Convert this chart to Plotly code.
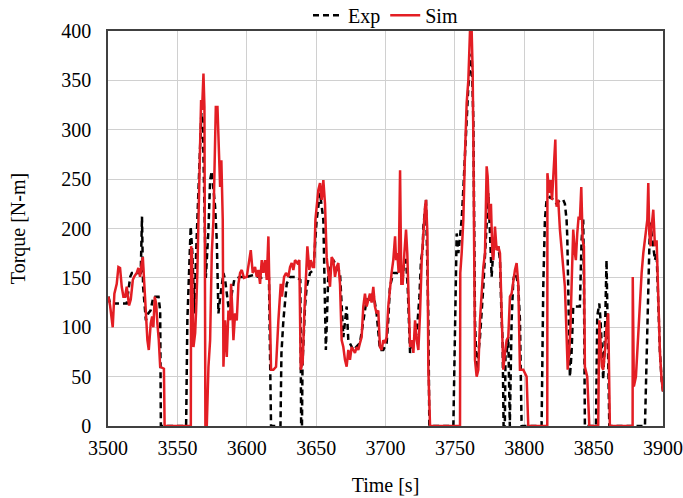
import plotly.graph_objects as go

# Exp (measured) torque trace
exp_t = [3500.3, 3501.5, 3513.5, 3514.8, 3516.0, 3517.2, 3523.6, 3524.5, 3525.3, 3527.3,
         3529.0, 3530.7, 3532.7, 3536.4, 3537.6, 3538.1, 3556.3, 3557.2, 3558.7, 3559.6,
         3560.8, 3562.3, 3563.5, 3564.7, 3565.9, 3567.3, 3568.3, 3569.5, 3570.5, 3572.4,
         3573.6, 3574.8, 3576.0, 3577.2, 3578.4, 3579.6, 3580.8, 3583.2, 3584.4, 3585.6,
         3586.8, 3588.0, 3589.2, 3591.0, 3595.2, 3600.0, 3605.0, 3610.0, 3614.4, 3616.0,
         3616.5, 3617.2, 3617.5, 3624.3, 3625.0, 3626.4, 3628.8, 3631.2, 3636.0, 3638.6,
         3639.0, 3639.2, 3639.8, 3640.2, 3642.0, 3643.2, 3645.6, 3648.0, 3650.4, 3652.8,
         3655.2, 3656.4, 3657.0, 3657.6, 3658.8, 3662.4, 3667.2, 3669.6, 3672.0, 3673.2,
         3676.8, 3681.6, 3686.4, 3688.8, 3691.2, 3693.6, 3696.0, 3698.4, 3700.8, 3702.0,
         3703.2, 3705.6, 3709.5, 3712.4, 3713.6, 3714.8, 3716.0, 3717.7, 3719.0, 3720.1,
         3722.5, 3724.4, 3725.6, 3726.8, 3727.3, 3729.2, 3730.9, 3731.6, 3748.9, 3750.1,
         3751.3, 3752.5, 3753.7, 3754.9, 3756.1, 3757.3, 3758.5, 3759.7, 3761.5, 3762.1,
         3763.3, 3764.5, 3765.7, 3768.1, 3770.5, 3772.9, 3774.1, 3775.3, 3776.5, 3777.7,
         3780.1, 3781.3, 3782.5, 3783.7, 3784.4, 3785.1, 3786.0, 3786.5, 3787.3, 3788.5,
         3789.1, 3789.6, 3790.9, 3792.1, 3793.3, 3794.5, 3795.7, 3796.9, 3798.1, 3812.5,
         3813.7, 3814.9, 3816.1, 3818.5, 3821.0, 3823.3, 3825.7, 3828.1, 3829.3, 3830.5,
         3831.0, 3831.7, 3832.4, 3832.9, 3834.1, 3835.3, 3837.7, 3840.1, 3841.3, 3842.5,
         3843.0, 3843.7, 3851.7, 3852.6, 3854.1, 3855.0, 3856.9, 3858.1, 3859.3, 3860.1,
         3861.3, 3887.0, 3887.7, 3888.7, 3889.6, 3890.6, 3891.8, 3893.0, 3894.2, 3895.4,
         3896.6, 3897.8, 3899.0, 3900.0]
exp_tq = [131, 124, 124, 141, 151, 155, 155, 212, 141, 107,
          114, 117, 131, 131, 117, 0, 0, 107, 175, 202,
          175, 114, 175, 225, 269, 317, 310, 240, 150, 199,
          249, 258, 242, 222, 188, 114, 130, 155, 148, 131,
          121, 114, 134, 148, 151, 151, 153, 150, 152, 150,
          100, 57, 0, 0, 74, 107, 144, 151, 151, 148,
          57, 0, 0, 64, 121, 141, 155, 158, 209, 236,
          209, 114, 77, 100, 155, 168, 155, 90, 121, 87,
          77, 84, 128, 128, 135, 114, 77, 77, 84, 107,
          141, 155, 155, 150, 168, 168, 141, 74, 80, 87,
          94, 130, 168, 178, 202, 229, 107, 0, 0, 107,
          195, 175, 192, 209, 240, 276, 300, 344, 370, 377,
          310, 107, 57, 90, 141, 202, 236, 195, 151, 178,
          178, 182, 168, 107, 87, 0, 0, 74, 74, 90,
          0, 0, 107, 148, 155, 151, 141, 107, 0, 0,
          141, 209, 229, 232, 229, 225, 229, 229, 225, 209,
          192, 141, 74, 50, 74, 121, 121, 121, 188, 209,
          150, 0, 0, 111, 124, 107, 47, 90, 168, 110,
          0, 0, 40, 107, 175, 206, 195, 182, 168, 175,
          125, 74, 47, 35]

# Sim (simulated) torque trace
sim_t = [3500.3, 3501.5, 3503.4, 3504.6, 3506.3, 3507.5, 3508.7, 3509.9, 3511.1, 3512.3,
         3513.5, 3515.2, 3516.4, 3517.9, 3518.8, 3520.7, 3521.9, 3523.1, 3524.3, 3525.1,
         3526.0, 3527.5, 3528.4, 3529.4, 3530.8, 3531.8, 3532.7, 3533.7, 3534.7, 3535.6,
         3536.6, 3537.6, 3540.3, 3540.8, 3559.7, 3559.9, 3560.4, 3561.6, 3562.8, 3563.5,
         3564.4, 3565.4, 3566.4, 3567.1, 3567.8, 3568.8, 3569.5, 3570.2, 3571.2, 3572.4,
         3573.6, 3574.8, 3576.0, 3576.7, 3577.7, 3578.9, 3579.8, 3580.8, 3581.7, 3582.7,
         3583.2, 3584.4, 3585.6, 3586.8, 3588.0, 3588.7, 3589.7, 3590.4, 3591.6, 3592.8,
         3594.0, 3595.2, 3596.4, 3598.0, 3600.0, 3601.2, 3602.9, 3604.3, 3606.0, 3607.2,
         3608.4, 3609.6, 3610.8, 3612.0, 3613.2, 3614.4, 3615.6, 3616.8, 3617.5, 3619.2,
         3621.1, 3622.8, 3624.5, 3625.4, 3626.9, 3628.3, 3630.0, 3631.2, 3632.4, 3633.6,
         3634.8, 3636.5, 3637.9, 3638.9, 3640.3, 3641.5, 3642.7, 3643.7, 3645.1, 3646.1,
         3647.5, 3648.5, 3649.5, 3650.4, 3651.6, 3652.8, 3654.0, 3655.2, 3656.4, 3657.6,
         3658.8, 3660.0, 3661.2, 3662.4, 3663.6, 3664.8, 3666.0, 3667.2, 3668.4, 3669.6,
         3670.8, 3672.0, 3673.2, 3674.4, 3675.6, 3676.8, 3678.0, 3679.2, 3680.4, 3681.6,
         3682.8, 3684.0, 3685.2, 3686.4, 3687.6, 3688.8, 3690.0, 3691.2, 3692.4, 3693.6,
         3694.8, 3696.0, 3697.2, 3698.4, 3699.6, 3700.8, 3702.0, 3703.2, 3704.4, 3705.6,
         3706.9, 3707.6, 3708.5, 3709.5, 3710.5, 3711.4, 3712.4, 3713.6, 3714.8, 3715.7,
         3716.7, 3717.7, 3718.9, 3720.1, 3721.3, 3722.5, 3723.7, 3724.9, 3726.1, 3727.3,
         3728.5, 3729.2, 3730.2, 3730.9, 3732.1, 3753.7, 3753.9, 3754.9, 3756.1, 3757.3,
         3758.5, 3759.7, 3760.9, 3762.1, 3762.8, 3763.3, 3764.0, 3764.5, 3765.7, 3766.9,
         3768.1, 3769.3, 3770.5, 3771.7, 3772.9, 3773.6, 3774.8, 3776.0, 3777.0, 3777.7,
         3778.9, 3780.1, 3781.3, 3782.5, 3783.7, 3784.9, 3786.1, 3787.3, 3788.5, 3789.7,
         3790.9, 3792.1, 3793.3, 3794.5, 3795.7, 3796.9, 3799.3, 3801.7, 3802.9, 3816.6,
         3816.7, 3818.0, 3819.0, 3820.0, 3821.4, 3822.4, 3823.3, 3824.5, 3825.7, 3826.9,
         3828.1, 3829.3, 3830.3, 3831.3, 3832.3, 3833.3, 3834.1, 3835.3, 3836.5, 3837.2,
         3838.2, 3839.2, 3840.1, 3841.1, 3842.1, 3843.0, 3843.7, 3845.4, 3846.9, 3853.3,
         3854.1, 3855.0, 3856.0, 3856.9, 3858.1, 3859.3, 3860.5, 3861.7, 3878.1, 3878.2,
         3879.0, 3880.5, 3881.4, 3882.4, 3883.4, 3884.6, 3885.8, 3887.0, 3887.7, 3888.7,
         3889.4, 3890.1, 3891.1, 3891.8, 3893.0, 3894.2, 3895.4, 3896.6, 3897.8, 3899.0,
         3900.0]
sim_tq = [131, 122, 100, 134, 144, 161, 160, 141, 131, 131,
          141, 122, 128, 148, 151, 155, 160, 151, 165, 171,
          148, 114, 87, 77, 104, 111, 100, 131, 124, 104,
          87, 60, 58, 0, 0, 182, 178, 80, 94, 117,
          155, 222, 303, 330, 320, 357, 323, 0, 0, 60,
          87, 175, 209, 276, 323, 323, 293, 242, 269, 209,
          60, 107, 70, 117, 107, 144, 114, 87, 114, 107,
          144, 155, 158, 150, 151, 161, 178, 155, 161, 151,
          158, 144, 168, 155, 168, 148, 192, 107, 57, 57,
          60, 107, 144, 131, 151, 155, 151, 161, 165, 158,
          168, 165, 168, 57, 64, 114, 158, 182, 158, 168,
          161, 161, 209, 222, 239, 246, 229, 249, 225, 171,
          155, 141, 171, 168, 151, 161, 165, 144, 87, 80,
          67, 60, 77, 67, 80, 77, 74, 80, 77, 84,
          90, 121, 134, 121, 128, 134, 125, 141, 121, 114,
          117, 80, 77, 87, 84, 90, 121, 141, 155, 168,
          192, 168, 175, 155, 259, 144, 144, 175, 199, 175,
          125, 80, 87, 74, 107, 87, 77, 114, 168, 202,
          222, 229, 195, 57, 0, 0, 155, 175, 209, 276,
          327, 350, 400, 400, 360, 293, 175, 67, 50, 57,
          107, 134, 161, 175, 263, 253, 209, 225, 175, 168,
          202, 178, 182, 175, 107, 57, 74, 87, 90, 131,
          134, 148, 158, 165, 144, 57, 57, 50, 0, 0,
          256, 236, 249, 229, 263, 290, 222, 229, 199, 178,
          160, 141, 100, 57, 74, 100, 141, 199, 175, 168,
          195, 212, 209, 242, 188, 182, 60, 50, 0, 0,
          107, 87, 60, 57, 74, 100, 114, 0, 0, 151,
          40, 50, 74, 97, 131, 155, 175, 192, 195, 209,
          246, 195, 182, 202, 219, 182, 188, 125, 74, 47,
          35]

x_ticks = [3500, 3550, 3600, 3650, 3700, 3750, 3800, 3850, 3900]
y_ticks = [0, 50, 100, 150, 200, 250, 300, 350, 400]

serif = 'Liberation Serif'

fig = go.Figure()
fig.add_trace(go.Scatter(x=exp_t, y=exp_tq, name='Exp', mode='lines',
                         line=dict(color='black', width=2.5, dash='6px,4px')))
fig.add_trace(go.Scatter(x=sim_t, y=sim_tq, name='Sim', mode='lines',
                         line=dict(color='#e31e24', width=2.5)))

axis_style = dict(showgrid=True, gridcolor='#d0d0d0', gridwidth=1,
                  showline=True, linecolor='#404040', linewidth=1.5, mirror=True,
                  zeroline=False, ticks='', ticklabeloverflow='allow',
                  tickfont=dict(family=serif, size=20, color='black'))

fig.update_layout(
    width=683, height=498,
    margin=dict(l=108, r=20, t=31, b=72, autoexpand=False),
    paper_bgcolor='white', plot_bgcolor='white',
    font=dict(family=serif, size=20, color='black'),
    showlegend=True,
    legend=dict(orientation='h', x=0.5, xanchor='center', y=1.04, yanchor='middle',
                font=dict(family=serif, size=20), bgcolor='rgba(0,0,0,0)'),
)
fig.update_xaxes(range=[3500, 3900], tickvals=x_ticks, ticklabelstandoff=3,
                 title=dict(text='Time [s]', standoff=20,
                            font=dict(family=serif, size=20)), **axis_style)
fig.update_yaxes(range=[0, 400], tickvals=y_ticks, ticklabelstandoff=11,
                 title=dict(text='Torque [N-m]', standoff=30,
                            font=dict(family=serif, size=20)), **axis_style)

# drop the default page margin so the figure fills the window exactly
fig.write_html("out.html", config={'displayModeBar': False},
               post_script="document.body.style.margin='0';")
